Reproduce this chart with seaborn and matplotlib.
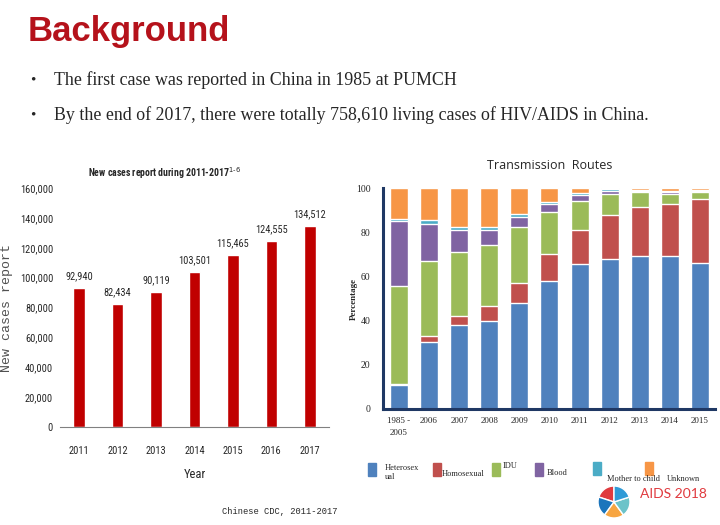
import numpy as np
import pandas as pd
import matplotlib
matplotlib.use("Agg")
import matplotlib.pyplot as plt
import seaborn as sns
from matplotlib import font_manager
from matplotlib.patches import Rectangle

# ------------------------------------------------------------
# Data
# ------------------------------------------------------------
years = ["2011", "2012", "2013", "2014", "2015", "2016", "2017"]
new_cases = [92940, 82434, 90119, 103501, 115465, 124555, 134512]

route_periods = ["1985 -\n2005", "2006", "2007", "2008", "2009", "2010",
                 "2011", "2012", "2013", "2014", "2015"]
route_names = ["Heterosexual", "Homosexual", "IDU", "Blood",
               "Mother to child", "Unknown"]
heterosexual = [11.0, 30.2, 38.2, 40.0, 47.8, 57.7, 65.4, 67.7, 69.1, 69.1, 65.9]
homosexual = [0.5, 3.0, 4.1, 6.8, 9.3, 12.6, 15.4, 19.9, 22.1, 23.5, 29.0]
idu = [44.0, 33.6, 28.6, 27.5, 25.1, 18.7, 13.2, 9.7, 6.8, 4.8, 3.4]
blood = [29.4, 17.0, 9.9, 6.5, 4.5, 3.6, 2.7, 1.5, 0.6, 0.6, 0.5]
mtct = [1.2, 1.6, 1.4, 1.4, 1.4, 0.9, 1.2, 0.6, 0.6, 0.8, 0.4]
unknown = [13.9, 14.6, 17.8, 17.8, 11.9, 6.5, 2.1, 0.6, 0.8, 1.2, 0.8]

route_colors = ["#4F81BD", "#C0504D", "#9BBB59", "#8064A2", "#4BACC6", "#F79646"]

W, H = 720, 525
sns.set_style("white")
fig = plt.figure(figsize=(7.2, 5.25), dpi=100)

# narrow font if one is installed, else plain Liberation Sans
_names = {f.name for f in font_manager.fontManager.ttflist}
NARROW = next((n for n in ["Liberation Sans Narrow", "Arial Narrow",
                           "Roboto Condensed", "DejaVu Sans Condensed"]
               if n in _names), "Liberation Sans")
NKW = dict(family=NARROW, fontstretch="condensed")


def px_axes(x0, y0, x1, y1):
    # pixel box (top-left origin) -> figure axes
    return fig.add_axes([x0 / W, 1 - y1 / H, (x1 - x0) / W, (y1 - y0) / H])


# ------------------------------------------------------------
# Slide text
# ------------------------------------------------------------
fig.text(28 / W, 1 - 32 / H, "Background", color="#B5121B", fontsize=25,
         fontweight="bold", family="Liberation Sans", va="center")
for yy, line in [(80, "The first case was reported in China in 1985 at PUMCH"),
                 (115, "By the end of 2017, there were totally 758,610 living cases "
                       "of HIV/AIDS in China.")]:
    fig.text(30 / W, 1 - yy / H, "•", fontsize=11, family="Liberation Serif",
             va="center")
    fig.text(54 / W, 1 - yy / H, line, fontsize=12.9, family="Liberation Serif",
             va="center")

# ------------------------------------------------------------
# Left chart: new cases
# ------------------------------------------------------------
ax1 = px_axes(60, 188, 329, 427)
df_cases = pd.DataFrame({"year": years, "cases": new_cases})
sns.barplot(data=df_cases, x="year", y="cases", color="#C00000", width=0.3,
            saturation=1, ax=ax1)
ax1.set_xlim(-0.5, 6.5)
ax1.set_ylim(0, 160000)
ax1.set_yticks(np.arange(0, 160001, 20000))
ax1.set_yticklabels([f"{v:,}" for v in range(0, 160001, 20000)], fontsize=7.5, **NKW)
ax1.set_xticks(np.arange(-0.5, 7, 1), minor=True)
ax1.set_xticks(range(len(years)))
ax1.set_xticklabels(years, fontsize=7.5, **NKW)
ax1.tick_params(axis="x", which="major", length=0, pad=14)
ax1.tick_params(axis="x", which="minor", length=4, color="#808080", direction="out")
ax1.tick_params(axis="y", length=3, color="#808080", direction="out", pad=2)
for s in ["top", "right", "left"]:
    ax1.spines[s].set_visible(False)
ax1.spines["bottom"].set_color("#808080")
ax1.set_xlabel("Year", fontsize=9, labelpad=8, **NKW)
ax1.set_ylabel("New cases report", family="Liberation Mono", fontsize=9.5,
               color="#505050")
ax1.yaxis.set_label_coords(-0.175, 0.5)
for i, v in enumerate(new_cases):
    ax1.text(i, v + 4500, f"{v:,}", ha="center", va="bottom", fontsize=7.5, **NKW)
fig.text(88 / W, 1 - 173 / H, "New cases report during 2011-2017$^{1\\text{-}6}$",
         ha="left", va="center", fontweight="bold", fontsize=7, **NKW)
fig.text(222 / W, 1 - 511 / H, "Chinese CDC, 2011-2017", family="Liberation Mono",
         fontsize=6.3, va="center")

# ------------------------------------------------------------
# Right chart: transmission routes (stacked)
# ------------------------------------------------------------
ax2 = px_axes(383, 188, 715, 409)
routes = np.array([heterosexual, homosexual, idu, blood, mtct, unknown])
cum = np.cumsum(routes, axis=0)
df_routes = pd.DataFrame({"period": route_periods})
for k in range(len(route_names) - 1, -1, -1):
    df_routes["v"] = np.minimum(cum[k], 100)
    sns.barplot(data=df_routes, x="period", y="v", color=route_colors[k],
                width=0.6, saturation=1, ax=ax2)
ax2.set_xlim(-0.53, 10.4)
ax2.set_ylim(0, 100)
ax2.set_yticks(range(0, 101, 20))
ax2.set_yticklabels(range(0, 101, 20), family="Liberation Serif", fontsize=7)
ax2.set_xticks(np.arange(-0.5, 11, 1), minor=True)
ax2.tick_params(axis="x", which="major", length=0, pad=6)
ax2.tick_params(axis="x", which="minor", length=3, width=2, color="#1F3864",
                direction="out")
ax2.tick_params(axis="y", length=3, width=2, color="#1F3864", direction="out", pad=6)
ax2.set_xticklabels(route_periods, family="Liberation Serif", fontsize=6.5,
                    linespacing=1.6)
for s in ["top", "right"]:
    ax2.spines[s].set_visible(False)
for s in ["left", "bottom"]:
    ax2.spines[s].set_color("#1F3864")
    ax2.spines[s].set_linewidth(2.2)
ax2.set_xlabel("")
ax2.set_ylabel("Percentage", family="Liberation Serif", fontweight="bold",
               fontsize=6.5)
ax2.yaxis.set_label_coords(-0.075, 0.5)
fig.text(550 / W, 1 - 166 / H, "Transmission  Routes", ha="center", va="center",
         family="Open Sans", fontsize=9)

# legend laid out like the slide
leg_items = [(368, 463, "Heterosex\nual", 385, 464, "top"),
             (433, 463, "Homosexual", 442, 474, "center"),
             (492, 463, "IDU", 503, 466, "center"),
             (535, 463, "Blood", 547, 473, "center"),
             (593, 462, "Mother to child", 607, 479, "center"),
             (645, 462, "Unknown", 667, 479, "center")]
for (x0, y0, lab, tx, ty, va), col in zip(leg_items, route_colors):
    fig.patches.append(Rectangle((x0 / W, 1 - (y0 + 13) / H), 8 / W, 13 / H,
                                 transform=fig.transFigure, color=col))
    fig.text(tx / W, 1 - ty / H, lab, family="Liberation Serif", fontsize=6,
             va=va, linespacing=1.1)

# AIDS 2018 mark
ax_logo = px_axes(594, 482, 634, 522)
ax_logo.pie([1, 1, 1, 1, 1], colors=["#E03A3E", "#1B75BC", "#F7A541",
                                      "#6CC3C9", "#2E9AD6"], startangle=90)
ax_logo.set_aspect("equal")
ax_logo.axis("off")
fig.text(640 / W, 1 - 494 / H, "AIDS 2018", color="#E03A3E", fontsize=10,
         family="Lato", va="center")

fig.savefig("out.png", dpi=100)
